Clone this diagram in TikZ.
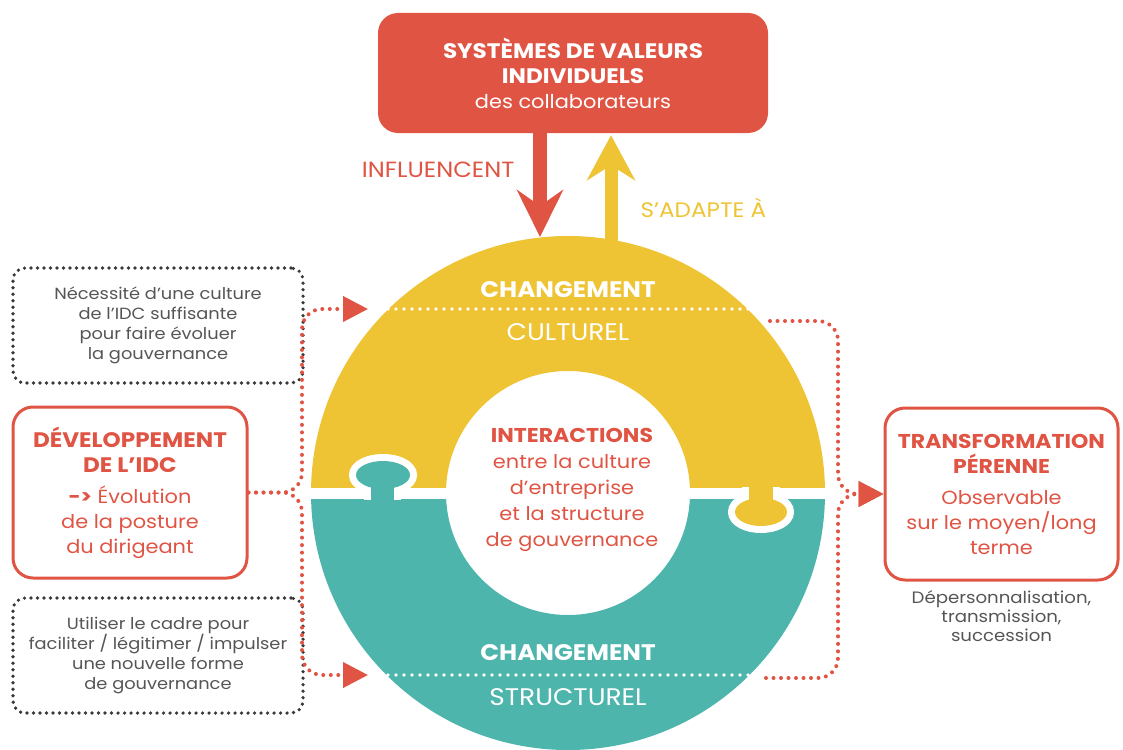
\documentclass[tikz,border=0pt]{standalone}
\usepackage{fontspec}
\setmainfont{Poppins}[FakeStretch=1.1]
\usepackage{tikz}
\usetikzlibrary{arrows.meta,positioning,calc}

\definecolor{coral}{HTML}{E05444}
\definecolor{mustard}{HTML}{EEC434}
\definecolor{lagoon}{HTML}{4DB5AC}
\definecolor{slate}{HTML}{555555}

\begin{document}
\begin{tikzpicture}[
  x=1pt, y=1pt,
  redbox/.style={draw=coral, line width=3pt, rounded corners=20pt, align=center, text=coral,
    minimum width=234pt, minimum height=171pt, font=\fontsize{19}{25}\selectfont},
  dotbox/.style={draw=black!78, line width=3.6pt, line cap=round, dash pattern=on 0pt off 6.5pt,
    rounded corners=12pt, minimum width=290pt, minimum height=115pt, align=center, text=slate,
    font=\fontsize{16.2}{20}\selectfont},
  reddots/.style={draw=coral, line width=4pt, line cap=round, dash pattern=on 0pt off 7.5pt, rounded corners=20pt},
  redtip/.style={-{Triangle[length=25pt, width=25pt]}},
  whitedots/.style={white, line width=3.6pt, line cap=round, dash pattern=on 0pt off 8pt},
  ringtext/.style={white, font=\fontsize{24}{27}\selectfont},
  ringhead/.style={white, font=\fontsize{22.5}{26}\selectfont\bfseries}
]
\useasboundingbox (0,0) rectangle (1123,-749);

% ring halves
\coordinate (hub) at (568,-493);
\begin{scope}
  \clip (300,-200) rectangle (840,-487);
  \fill[mustard, even odd rule] (hub) circle (257) (hub) circle (122);
\end{scope}
\begin{scope}
  \clip (300,-499) rectangle (840,-760);
  \fill[lagoon, even odd rule] (hub) circle (257) (hub) circle (122);
\end{scope}

% puzzle knobs
\begin{scope}
  \clip (330,-499) rectangle (440,-440);
  \draw[white, line width=14pt] (383,-475) ellipse (27 and 14);
  \draw[white, line width=14pt] (371,-510) rectangle (394,-470);
  \fill[lagoon] (383,-475) ellipse (27 and 14);
  \fill[lagoon] (371,-510) rectangle (394,-470);
\end{scope}
\begin{scope}
  \clip (700,-487) rectangle (820,-550);
  \draw[white, line width=14pt] (761,-512) ellipse (26 and 14);
  \draw[white, line width=14pt] (749,-478) rectangle (773,-510);
  \fill[mustard] (761,-512) ellipse (26 and 14);
  \fill[mustard] (749,-478) rectangle (773,-510);
\end{scope}

\node[ringhead] (chgcult) at (568,-290) {CHANGEMENT};
\node[ringtext] (cult) at (568,-332) {CULTUREL};
\draw[whitedots] (388,-309) -- (748,-309);
\node[ringhead] (chgstruct) at (568,-653) {CHANGEMENT};
\node[ringtext] (struct) at (568,-697) {STRUCTUREL};
\draw[whitedots] (388,-675) -- (748,-675);

\node[align=center, text=coral, font=\fontsize{19}{26}\selectfont] (inter) at (572,-490)
  {{\fontsize{20}{26}\selectfont\bfseries INTERACTIONS}\\entre la culture\\d’entreprise\\et la structure\\de gouvernance};

% top box and arrows
\node[fill=coral, rounded corners=20pt, minimum width=390pt, minimum height=120pt, align=center,
  text=white, font=\fontsize{19}{25}\selectfont] (sysval) at (573,-73)
  {{\fontsize{21}{25}\selectfont\bfseries SYSTÈMES DE VALEURS}\\{\fontsize{21}{25}\selectfont\bfseries INDIVIDUELS}\\des collaborateurs};
\coordinate (ringin) at (540,-237);
\coordinate (ringout) at (611,-250);
\draw[coral, line width=14pt, -{Stealth[length=47pt, width=46pt, inset=16pt]}]
  ($(sysval.south -| ringin)+(0,2)$) -- (ringin);
\draw[mustard, line width=13pt, -{Stealth[length=45pt, width=48pt, inset=15pt]}]
  (ringout) -- ($(sysval.south -| ringout)+(0,-2)$);
\node[text=coral, font=\fontsize{22}{24}\selectfont, anchor=east] (infl) at (518,-170) {INFLUENCENT};
\node[text=mustard, font=\fontsize{21}{24}\selectfont, anchor=west] (adapt) at (637,-208) {S’ADAPTE À};

% left side
\node[dotbox] (need) at (158,-325.5) {Nécessité d’une culture\\de l'IDC suffisante\\pour faire évoluer\\la gouvernance};
\node[redbox] (idc) at (130,-492.5)
  {{\fontsize{21}{25}\selectfont\bfseries DÉVELOPPEMENT}\\{\fontsize{21}{25}\selectfont\bfseries DE L’IDC}\\[6pt]\textbf{->} Évolution\\de la posture\\du dirigeant};
\node[dotbox] (frame) at (158,-655.5) {Utiliser le cadre pour\\faciliter / légitimer / impulser\\une nouvelle forme\\de gouvernance};

% right side
\node[redbox, minimum width=233pt, minimum height=172pt] (trans) at (1001.5,-494)
  {{\fontsize{20}{25}\selectfont\bfseries TRANSFORMATION}\\{\fontsize{20}{25}\selectfont\bfseries PÉRENNE}\\[6pt]Observable\\sur le moyen/long\\terme};
\node[below=6pt of trans, align=center, text=slate, font=\fontsize{16.5}{19}\selectfont] (depers)
  {Dépersonnalisation,\\transmission,\\succession};

% Arrows
\coordinate (cultL) at (368,-309);
\coordinate (structL) at (368,-675);
\coordinate (cultR) at (770,-321);
\coordinate (structR) at (766,-678);
\draw[reddots, redtip] (idc.east) -- (302,-492.5) -- (302,-309) -- (cultL);
\draw[reddots, redtip] (idc.east) -- (302,-492.5) -- (302,-675) -- (structL);
\draw[reddots, redtip] (cultR) -- (838,-321) -- (838,-494) -- (trans.west);
\draw[reddots, redtip] (structR) -- (838,-678) -- (838,-494) -- (trans.west);

\end{tikzpicture}
\end{document}
